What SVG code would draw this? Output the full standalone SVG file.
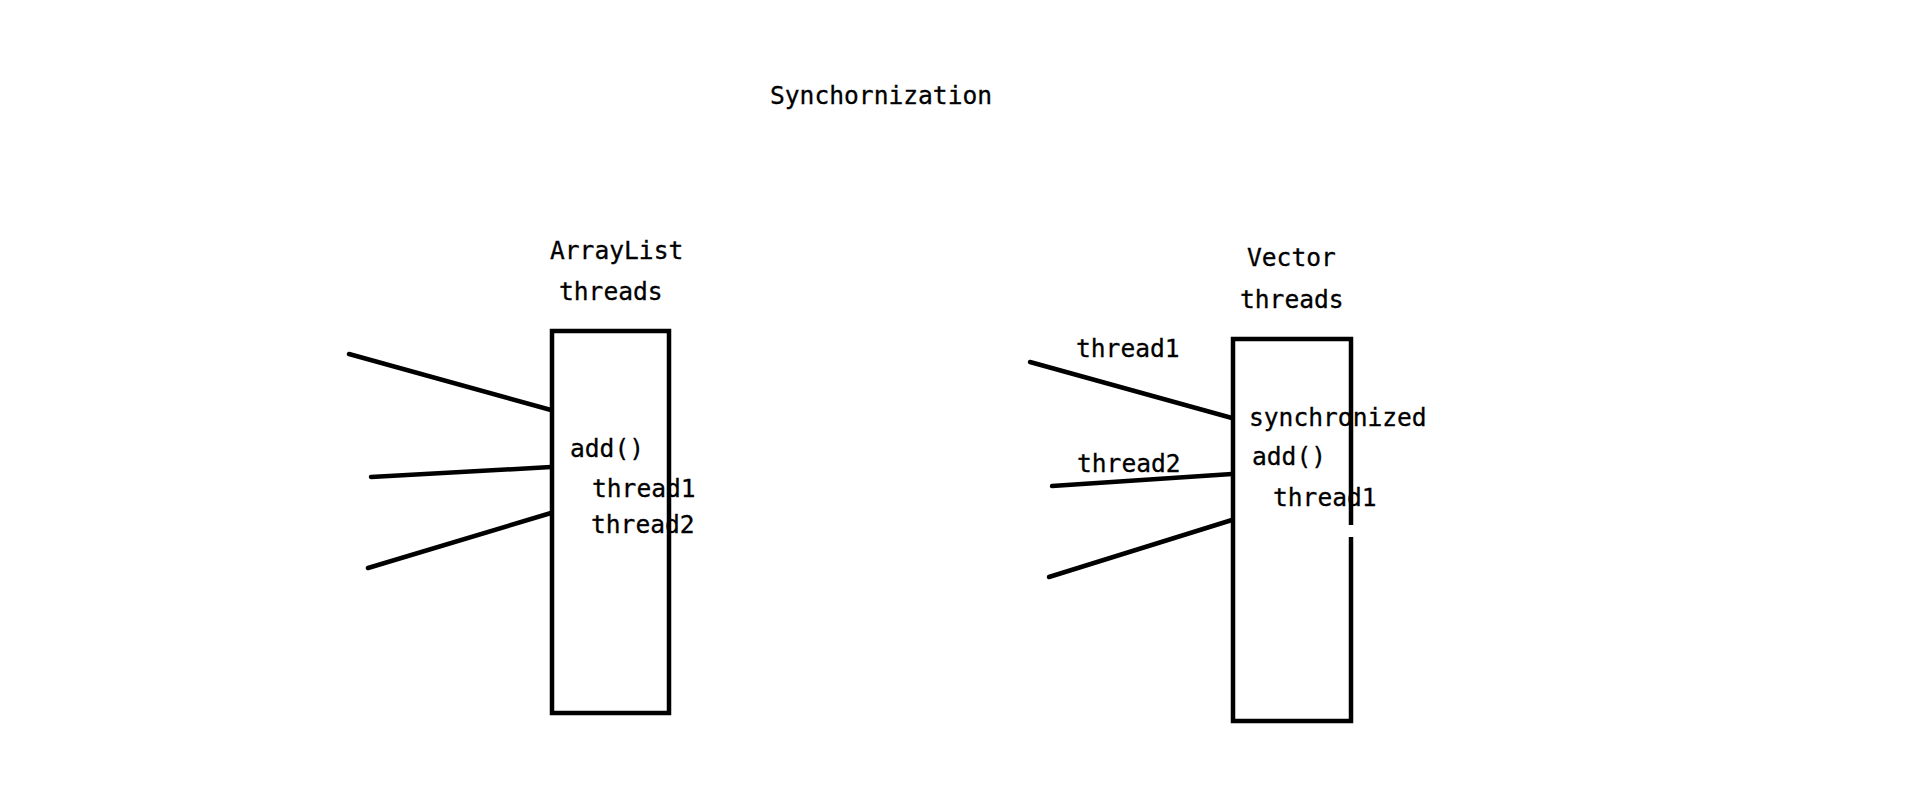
<svg xmlns="http://www.w3.org/2000/svg" width="1914" height="796" viewBox="0 0 1914 796">
<style>
text{font-family:"DejaVu Sans Mono","Liberation Mono",monospace;font-size:24.6px;fill:#000;stroke:#000;stroke-width:0.3}
.box{fill:none;stroke:#000;stroke-width:4.5}
.conn line{stroke:#000;stroke-width:4.5;stroke-linecap:round}
</style>
<rect width="1914" height="796" fill="#fff"/>
<text x="770" y="104">Synchornization</text>
<g id="arraylist">
<text x="550" y="259">ArrayList</text>
<text x="559" y="300">threads</text>
<rect class="box" x="552" y="331" width="117" height="382"/>
<text x="570" y="457">add()</text>
<text x="592" y="497">thread1</text>
<text x="591" y="533">thread2</text>
</g>
<g id="vector">
<text x="1247" y="266">Vector</text>
<text x="1240" y="308">threads</text>
<rect class="box" x="1233" y="339" width="118" height="382"/>
<rect x="1347" y="525" width="8" height="12" fill="#fff"/>
<text x="1249" y="426">synchronized</text>
<text x="1252" y="465">add()</text>
<text x="1273" y="506">thread1</text>
</g>
<g id="labels">
<text x="1076" y="357">thread1</text>
<text x="1077" y="472">thread2</text>
</g>
<g class="conn" id="connectors">
<line x1="349" y1="354" x2="551" y2="410"/>
<line x1="371" y1="477" x2="551" y2="467"/>
<line x1="368" y1="568" x2="551" y2="513"/>
<line x1="1030" y1="362" x2="1232" y2="418"/>
<line x1="1052" y1="486" x2="1232" y2="474"/>
<line x1="1049" y1="577" x2="1232" y2="520"/>
</g>
</svg>
